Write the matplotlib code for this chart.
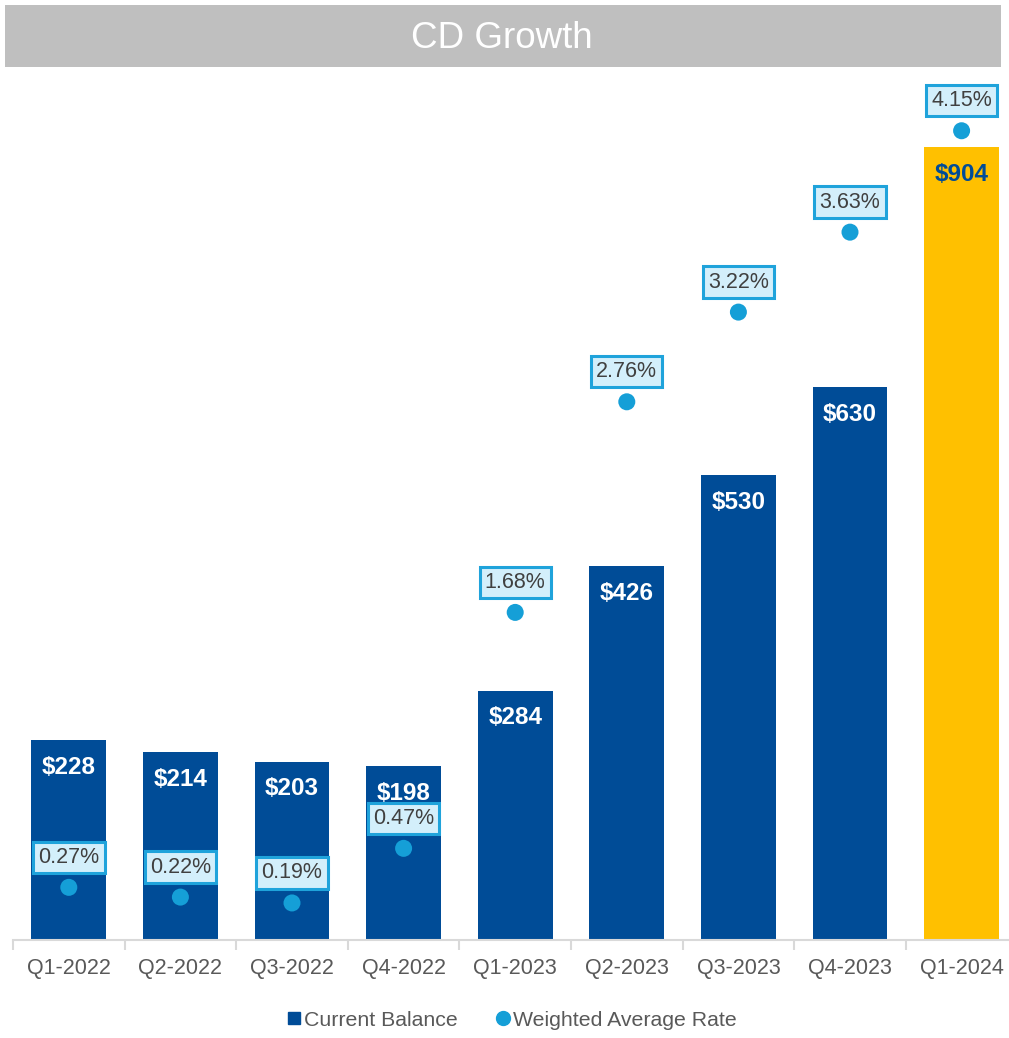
import matplotlib
matplotlib.use("Agg")
import matplotlib.pyplot as plt
from matplotlib.patches import Rectangle
from matplotlib.lines import Line2D
import numpy as np

plt.rcParams['font.family'] = ['Liberation Sans', 'DejaVu Sans']

categories = ["Q1-2022", "Q2-2022", "Q3-2022", "Q4-2022", "Q1-2023",
              "Q2-2023", "Q3-2023", "Q4-2023", "Q1-2024"]
balance = [228, 214, 203, 198, 284, 426, 530, 630, 904]
rate = [0.27, 0.22, 0.19, 0.47, 1.68, 2.76, 3.22, 3.63, 4.15]
balance_labels = ["$228", "$214", "$203", "$198", "$284", "$426", "$530", "$630", "$904"]
rate_labels = ["0.27%", "0.22%", "0.19%", "0.47%", "1.68%", "2.76%", "3.22%", "3.63%", "4.15%"]

W, H = 1009, 1038
fig = plt.figure(figsize=(W / 100, H / 100), dpi=100)
fig.patch.set_facecolor("white")

# Title banner
fig.patches.append(Rectangle((5 / W, 1 - 67 / H), 996 / W, 62 / H,
                             transform=fig.transFigure, facecolor="#BFBFBF",
                             edgecolor="none", zorder=0))
fig.text(502 / W, 1 - 39 / H, "CD Growth", color="white", fontsize=26.5,
         ha="center", va="center")

ax_left, ax_bottom_px, ax_top_px = 13, 940, 80
ax_w = 9 * 111.6
ax = fig.add_axes([ax_left / W, 1 - ax_bottom_px / H, ax_w / W,
                   (ax_bottom_px - ax_top_px) / H])
ax.set_facecolor("none")
plot_h = ax_bottom_px - ax_top_px
ax.set_ylim(0, plot_h / 0.877)
ax.set_xlim(-0.5, 8.5)

x = np.arange(len(categories))
colors = ["#004C97"] * 8 + ["#FFC000"]
ax.bar(x, balance, width=0.67, color=colors, zorder=2)
for i, (v, lab) in enumerate(zip(balance, balance_labels)):
    ax.annotate(lab, (x[i], v), xytext=(0, -27), textcoords="offset pixels",
                ha="center", va="center", fontsize=17.5, fontweight="bold",
                color="white" if i < 8 else "#004C97", zorder=3)

for s in ["top", "right", "left"]:
    ax.spines[s].set_visible(False)
ax.spines["bottom"].set_color("#D9D9D9")
ax.spines["bottom"].set_linewidth(1.5)
ax.set_yticks([])
ax.set_xticks(x)
ax.set_xticklabels(categories, fontsize=15.5, color="#595959")
ax.tick_params(axis="x", which="major", length=0, pad=13)
ax.set_xticks(np.arange(-0.5, 9, 1), minor=True)
ax.tick_params(axis="x", which="minor", length=7, color="#D9D9D9", width=1.5)

ax2 = ax.twinx()
ax2.set_ylim(0, plot_h / 195)
ax2.axis("off")
ax2.scatter(x, rate, s=150, color="#159FD7", zorder=4, edgecolors="none")
for i, (v, lab) in enumerate(zip(rate, rate_labels)):
    ax2.annotate(lab, (x[i], v), xytext=(0, 30), textcoords="offset pixels",
                 ha="center", va="center", fontsize=15.5, color="#404040",
                 bbox=dict(boxstyle="square,pad=0.24", facecolor="#D3EFFB",
                           edgecolor="#1FA3DB", linewidth=2.2), zorder=5)

# Legend
handles = [Line2D([], [], marker="s", linestyle="none", color="#004C97", markersize=9),
           Line2D([], [], marker="o", linestyle="none", color="#159FD7", markersize=10)]
fig.legend(handles, ["Current Balance", "Weighted Average Rate"], loc="center",
           bbox_to_anchor=(510 / W, 1 - 1020 / H), ncol=2, frameon=False,
           fontsize=15.3, labelcolor="#595959", handletextpad=0.0,
           columnspacing=1.6, handlelength=1.0)

fig.savefig("out.png", dpi=100, facecolor="white")
